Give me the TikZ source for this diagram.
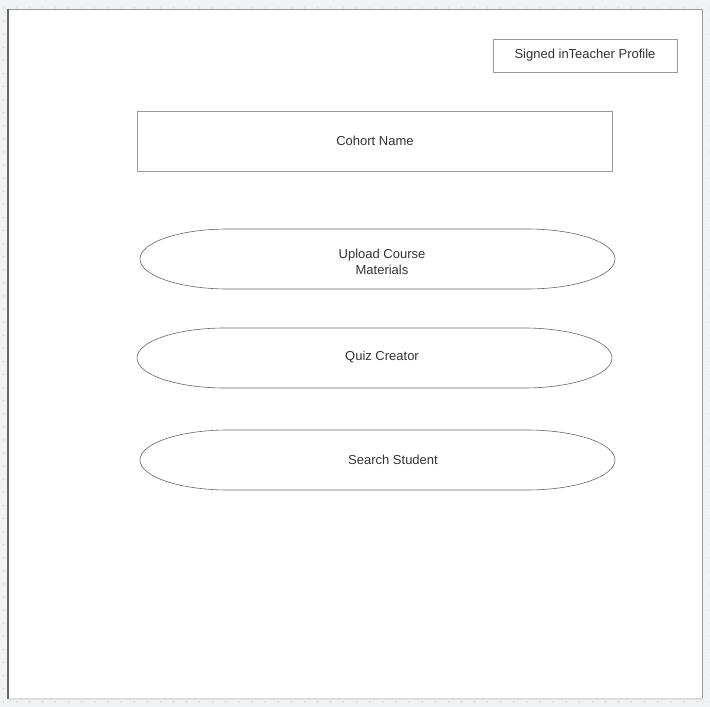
\documentclass[tikz,border=0pt]{standalone}
\usepackage{fontspec}
\setmainfont{Liberation Sans}
\definecolor{canvasgray}{HTML}{F1F2F4}
\definecolor{dotgray}{HTML}{D4D6DA}
\definecolor{framegray}{HTML}{999999}
\definecolor{edgegray}{HTML}{666666}
\definecolor{shadegray}{HTML}{DDDDDD}
\definecolor{textgray}{HTML}{333333}
\tikzset{
  boxline/.style={draw=framegray, line width=0.8pt, fill=white},
  label/.style={text=textgray, font=\fontsize{13}{16}\selectfont, align=center},
  pillline/.style={draw=edgegray, line width=0.6pt, fill=white}
}
% a pill: left edge, top edge, width
\newcommand{\pillshape}[3]{%
  \draw[pillline] (#1+88,#2) -- (#1+#3-88,#2)
    arc[start angle=-90,end angle=90,x radius=88,y radius=30]
    -- (#1+88,#2+60)
    arc[start angle=90,end angle=270,x radius=88,y radius=30] -- cycle;}
\begin{document}
\begin{tikzpicture}[x=1pt,y=-1pt]
  \useasboundingbox (0,0) rectangle (710,707);
  \fill[canvasgray] (0,0) rectangle (710,707);
  %\draw (0,0) grid (710,707);
  \foreach \i in {0,...,54}
    \foreach \j in {0,...,53}
      \fill[dotgray] (3.3+13.09*\i,8+13.09*\j) circle (0.8);
  % page
  \fill[white] (8,9) rectangle (702,698);
  \draw[shadegray, line width=2pt] (9,699) -- (703,699);
  \draw[framegray, line width=1pt] (8,9) -- (702,9) -- (702,698);
  \draw[edgegray, line width=1.4pt] (8,9) -- (8,698.5);
  % header boxes
  \node[boxline, label, minimum width=184, minimum height=33] (profile) at (585,55.5) {Signed inTeacher Profile};
  \node[boxline, minimum width=475, minimum height=60] (cohort) at (374.5,141) {};
  \node[label] (cohortname) at (375,141) {Cohort Name};
  % pills
  \pillshape{140}{229}{475}
  \node[label] (upload) at (382,262) {Upload Course\\Materials};
  \pillshape{137}{328}{475}
  \node[label] (quiz) at (382,357.5) {Quiz Creator};
  \pillshape{140}{430}{475}
  \node[label] (search) at (393,459.5) {Search Student};
\end{tikzpicture}
\end{document}
